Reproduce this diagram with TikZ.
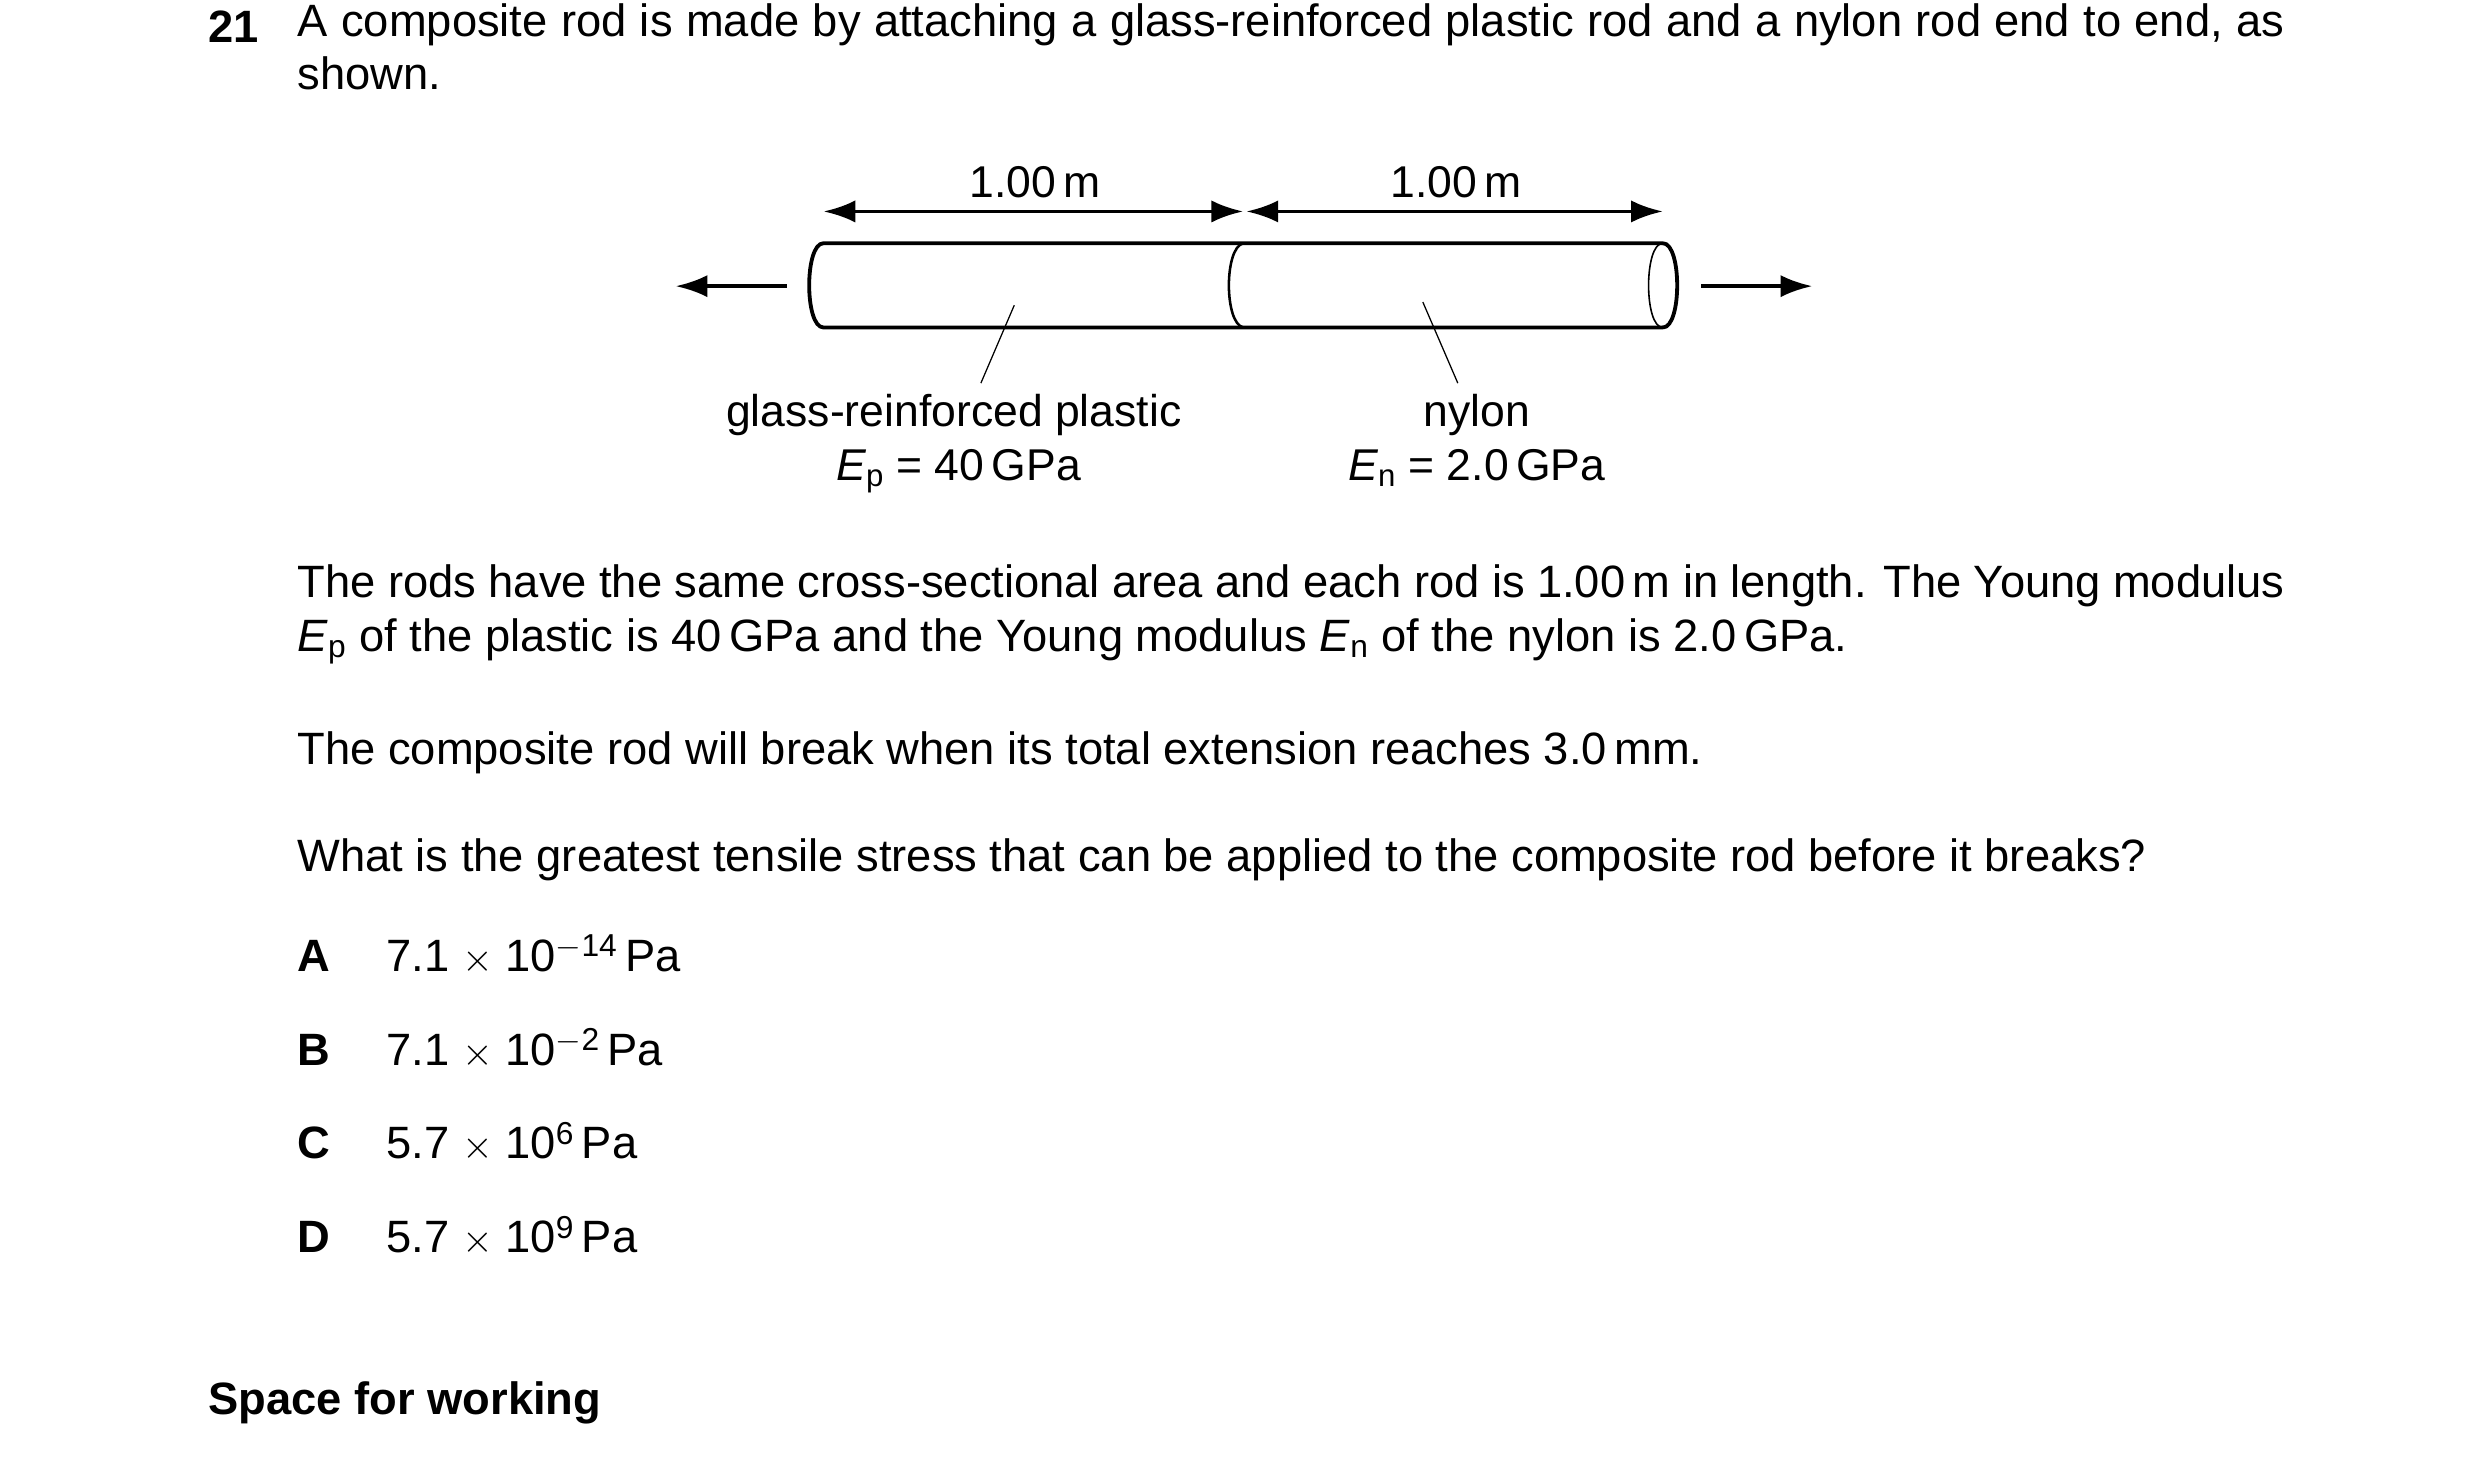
\documentclass[tikz,border=0pt]{standalone}
\usepackage{fontspec}
\setmainfont{Liberation Sans}
\usetikzlibrary{arrows.meta}
\begin{document}
\begin{tikzpicture}[x=1pt,y=-1pt,
  txt/.style={anchor=base west,inner sep=0pt,font=\fontsize{28.5}{34}\selectfont},
  lab/.style={anchor=base,inner sep=0pt,font=\fontsize{28}{30}\selectfont},
  rod/.style={line width=2.4pt},
  arr/.style={line width=2.4pt,-{Latex[length=20pt,width=14pt]}},
  dim/.style={line width=2.4pt,{Latex[length=20pt,width=14pt]}-{Latex[length=20pt,width=14pt]}},
  lead/.style={line width=0.8pt}]
\useasboundingbox (0,0) rectangle (1560,916);
\fill[white] (0,0) rectangle (1560,916);
\node[txt,font=\fontsize{28.5}{34}\selectfont\bfseries] (q) at (131,27) {21};
\node[txt,anchor=north west] (intro) at (187,2) {\parbox[t]{1250pt}{\fontsize{28.5}{33.5}\selectfont A composite rod is made by attaching a glass-reinforced plastic rod and a nylon rod end to end, as shown.}};
% dimension arrows
\coordinate (d1) at (518,133); \coordinate (d2) at (782,133);
\coordinate (d3) at (784,133); \coordinate (d4) at (1046,133);
\draw[dim] (d1) -- (d2);
\draw[dim] (d3) -- (d4);
\node[lab] (l1) at (651,124) {1.00\,m};
\node[lab] (l2) at (916,124) {1.00\,m};
% rod
\draw[rod,line join=round] (1046,153) -- (518,153) .. controls (506,153) and (506,206) .. (518,206) -- (1046,206);
\draw[line width=1.6pt] (782,153) .. controls (770,156) and (770,203) .. (782,206);
\draw[rod] (1046,153) .. controls (1058,153) and (1058,206) .. (1046,206);
\draw[line width=1pt] (1046,153) .. controls (1034,153) and (1034,206) .. (1046,206);
% force arrows
\coordinate (f1) at (495,180); \coordinate (f2) at (425,180);
\coordinate (f3) at (1070,180); \coordinate (f4) at (1140,180);
\draw[arr] (f1) -- (f2);
\draw[arr] (f3) -- (f4);
% labels
\node[lab] (gp) at (600,268) {glass-reinforced plastic};
\node[lab] (ep) at (603,302) {$\mathit{E}_{\mathrm{p}}$ = 40\,GPa};
\node[lab] (ny) at (929,268) {nylon};
\node[lab] (en) at (929,302) {$\mathit{E}_{\mathrm{n}}$ = 2.0\,GPa};
\coordinate (a1) at (638,192); \coordinate (a2) at (617,241);
\coordinate (b1) at (895,190); \coordinate (b2) at (917,241);
\draw[lead] (a1) -- (a2);
\draw[lead] (b1) -- (b2);
% text
\node[txt,anchor=north west] (p1) at (187,355) {\parbox[t]{1250pt}{\fontsize{28.5}{34}\selectfont The rods have the same cross-sectional area and each rod is 1.00\,m in length. The Young modulus \textit{E}\textsubscript{p} of the plastic is 40\,GPa and the Young modulus \textit{E}\textsubscript{n} of the nylon is 2.0\,GPa.}};
\node[txt] (p2) at (187,481) {The composite rod will break when its total extension reaches 3.0\,mm.};
\node[txt] (p3) at (187,548) {What is the greatest tensile stress that can be applied to the composite rod before it breaks?};
\node[txt,font=\fontsize{28.5}{34}\selectfont\bfseries] (A) at (187,611) {A};
\node[txt] (Av) at (243,611) {7.1 $\times$ 10\textsuperscript{$-$14}\,Pa};
\node[txt,font=\fontsize{28.5}{34}\selectfont\bfseries] (B) at (187,670) {B};
\node[txt] (Bv) at (243,670) {7.1 $\times$ 10\textsuperscript{$-$2}\,Pa};
\node[txt,font=\fontsize{28.5}{34}\selectfont\bfseries] (C) at (187,729) {C};
\node[txt] (Cv) at (243,729) {5.7 $\times$ 10\textsuperscript{6}\,Pa};
\node[txt,font=\fontsize{28.5}{34}\selectfont\bfseries] (D) at (187,788) {D};
\node[txt] (Dv) at (243,788) {5.7 $\times$ 10\textsuperscript{9}\,Pa};
\node[txt,font=\fontsize{28.5}{34}\selectfont\bfseries] (sw) at (131,890) {Space for working};
\end{tikzpicture}
\end{document}
